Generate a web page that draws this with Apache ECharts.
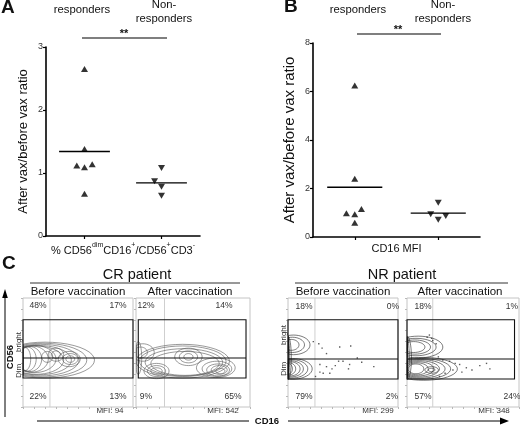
<!DOCTYPE html>
<html><head><meta charset="utf-8">
<script src="https://cdn.jsdelivr.net/npm/echarts@6/dist/echarts.min.js"></script>
<style>html,body{margin:0;padding:0;background:#fff}#c{width:520px;height:426px}</style>
</head><body><div id="c"></div>
<script>
// ---------- Panel A / B data ----------
const groupLabels = ['responders', 'Non-\nresponders'];
const aTicks = [0, 1, 2, 3];
const bTicks = [0, 2, 4, 6, 8];
const aResp = [2.65, 1.38, 1.12, 1.09, 1.14, 0.67];
const aRespShift = [0, 0, -0.1, 0, 0.1, 0];
const aNon = [1.08, 0.87, 0.78, 0.64];
const aNonShift = [0, -0.09, 0, 0];
const bResp = [6.25, 2.4, 0.98, 0.94, 1.15, 0.59];
const bRespShift = [0, 0, -0.1, 0, 0.08, 0];
const bNon = [1.41, 0.94, 0.71, 0.87];
const bNonShift = [0, -0.09, 0, 0.09];

// ---------- Panel C data ----------
const patientTitles = ['CR patient', 'NR patient'];
const timeTitles = ['Before vaccination', 'After vaccination'];
const quadPct = [['48%','17%','22%','13%'], ['12%','14%','9%','65%'], ['18%','0%','79%','2%'], ['18%','1%','57%','24%']];
const mfiValues = [94, 542, 299, 348];
const gateBounds = [[0,100,26.6,45,80], [2,96.5,26.6,45,80], [0,100,25.7,44,80], [0,96,25.7,44,80]];
const cd16Marker = [24.5, 25, 24.5, 23];
// contour rings: [centre x, centre y, radius x, radius y] (axis units 0-100)
const crBeforeRings = [
 [20,43,45,16.5],[18,43,40,15.5],[16,43,35,14.5],[14,43,30,13.5],[12,43,25,13],[10,44,20,12.5],[8,44,15,12],[6,44,11,11.5],[4,44,8,11],[2,44,5,10.5],
 [42,44,10,7],[43,44,7,5],[43,44,4,3],[30,48,7,6],[30,48,4,3.5],[22,46,5,5]
];
const crAfterRings = [
 [41,42,41,15.5],[41,42,38,14],[42,41,34,12.5],[43,40,30,11],
 [70,36,17,9],[71,35,13,7],[72,34,10,5.5],[73,34,7,4],[74,33,4,2.5],
 [18,33,11,7],[18,33,8,5],[18,33,5,3],
 [46,46,12,8],[46,46,8,5.5],[46,46,4,3],
 [6,50,10,8],[4,50,6,5],[2,45,3,15]
];
const nrBeforeRings = [
 [4,35,18,9.5],[3,35,15,8.5],[2,35,12,7.5],[2,35,9,6.5],[1,35,6,5.5],[1,35,3,4.5],
 [5,57,15,9],[4,57,11,7],[3,57,7,5],
 [0,45,3,20],[0,45,1.5,19]
];
const nrAfterRings = [
 [10,55,22,10],[8,55,18,8],[7,55,14,6.5],[6,55,10,5],
 [15,35,30,10.5],[13,35,26,9.5],[12,35,22,8.5],[11,35,18,7.5],[10,35,14,6.5],[9,35,10,5.5],[8,35,7,4.5],[22,34,6,3],[22,34,3,1.5],
 [0,45,4,20],[0,45,2,19]
];
const nrBeforeEvents = [[47,55],[57,56],[63,45],[50,42],[67,41],[78,37],[29,39],[35,37],[40,35],[43,38],[55,35],[32,31],[38,31],[56,39],[46,42],[23,60],[28,58],[31,54],[35,49],[29,32],[25,28]];
const nrAfterEvents = [[20,66],[23,61],[26,58],[28,46],[32,43],[38,42],[43,40],[47,39],[53,36],[58,34],[65,38],[71,40],[74,35],[49,32],[41,34],[34,31],[29,28],[18,64],[22,63]];

const FONT = 'Liberation Sans, Arial, Helvetica, sans-serif';
const mean = a => a.reduce((s, v) => s + v, 0) / a.length;

const chart = echarts.init(document.getElementById('c'), null, {renderer: 'canvas', width: 520, height: 426});

const grids = [
  {left: 46, top: 47, width: 154, height: 189},
  {left: 313, top: 43, width: 167, height: 194},
  {left: 23, top: 298, width: 110, height: 109, show: true, borderColor: '#c4c4c4', borderWidth: 1},
  {left: 136, top: 298, width: 114, height: 109, show: true, borderColor: '#c4c4c4', borderWidth: 1},
  {left: 288, top: 298, width: 110, height: 109, show: true, borderColor: '#c4c4c4', borderWidth: 1},
  {left: 407, top: 298, width: 112, height: 109, show: true, borderColor: '#c4c4c4', borderWidth: 1}
];

function dotXAxis(gi, name, rich) {
  return {gridIndex: gi, type: 'value', min: 0.5, max: 2.5,
    axisLine: {show: true, onZero: false, lineStyle: {color: '#000', width: 1.6}},
    axisTick: {show: true, customValues: [1, 2], length: 3, lineStyle: {color: '#000', width: 1.2}},
    axisLabel: {show: false}, splitLine: {show: false},
    name: name, nameLocation: 'middle', nameGap: 6,
    nameTextStyle: {fontFamily: FONT, fontSize: 11, color: '#111', rich: rich}};
}
function dotYAxis(gi, ticks, fs, gap) {
  return {gridIndex: gi, type: 'value', min: ticks[0], max: ticks[ticks.length - 1], interval: ticks[1] - ticks[0],
    axisLine: {show: true, lineStyle: {color: '#000', width: 1.6}},
    axisTick: {show: true, length: 3, lineStyle: {color: '#000', width: 1.2}},
    axisLabel: {fontFamily: FONT, fontSize: 9, color: '#333', margin: 3}, splitLine: {show: false},
    name: 'After vax/before vax ratio', nameLocation: 'middle', nameRotate: 90, nameGap: gap,
    nameTextStyle: {fontFamily: FONT, fontSize: fs, color: '#111'}};
}
function flowAxis(gi) {
  return {gridIndex: gi, type: 'value', min: 0, max: 100, interval: 10,
    axisLine: {show: false}, axisLabel: {show: false}, splitLine: {show: false},
    axisTick: {show: true, length: 2, lineStyle: {color: '#b8b8b8', width: 1}}};
}

const supRich = {
  n: {fontFamily: FONT, fontSize: 11, color: '#111', lineHeight: 14, verticalAlign: 'bottom'},
  s: {fontFamily: FONT, fontSize: 7, color: '#111', lineHeight: 10, verticalAlign: 'top'}
};

const xAxes = [
  dotXAxis(0, '{n|% CD56}{s|dim}{n|CD16}{s|+}{n|/CD56}{s|+}{n|CD3}{s|-}', supRich),
  dotXAxis(1, 'CD16 MFI', null)
];
const yAxes = [dotYAxis(0, aTicks, 13, 16), dotYAxis(1, bTicks, 15, 16)];
for (let gi = 2; gi < 6; gi++) { xAxes.push(flowAxis(gi)); yAxes.push(flowAxis(gi)); }

const series = [];
function triSeries(ai, vals, shift, center, down) {
  series.push({type: 'scatter', xAxisIndex: ai, yAxisIndex: ai, symbol: 'triangle', symbolSize: [7, 6],
    symbolRotate: down ? 180 : 0, itemStyle: {color: '#000'}, silent: true, z: 3,
    data: vals.map((v, i) => [center + shift[i], v])});
  const m = mean(vals);
  series.push({type: 'line', xAxisIndex: ai, yAxisIndex: ai, symbol: 'none', silent: true, z: 2,
    lineStyle: {color: '#000', width: 1.3}, data: [[center - 0.33, m], [center + 0.33, m]]});
}
triSeries(0, aResp, aRespShift, 1, false);
triSeries(0, aNon, aNonShift, 2, true);
triSeries(1, bResp, bRespShift, 1, false);
triSeries(1, bNon, bNonShift, 2, true);

function ringRenderer(color) {
  return function (params, api) {
    const cx = api.value(0), cy = api.value(1), rx = api.value(2), ry = api.value(3);
    const pts = [];
    for (let k = 0; k <= 40; k++) {
      const t = k / 40 * 2 * Math.PI;
      let x = cx + rx * Math.cos(t), y = cy + ry * Math.sin(t);
      x = Math.max(0.4, Math.min(99.6, x)); y = Math.max(0.4, Math.min(99.6, y));
      pts.push(api.coord([x, y]));
    }
    return {type: 'polyline', shape: {points: pts}, style: {stroke: color, lineWidth: 0.6, fill: null}};
  };
}
function markerItem(params, api) {
  const a = api.coord([api.value(0), 0]), b = api.coord([api.value(0), 100]);
  return {type: 'line', shape: {x1: a[0], y1: a[1], x2: b[0], y2: b[1]}, style: {stroke: '#cfcfcf', lineWidth: 1}};
}
function gateItem(params, api) {
  const x0 = api.value(0), x1 = api.value(1), yb = api.value(2), ym = api.value(3), yt = api.value(4);
  const p0 = api.coord([x0, yt]), p1 = api.coord([x1, yb]);
  const l0 = api.coord([x0, ym]), l1 = api.coord([x1, ym]);
  return {type: 'group', children: [
    {type: 'rect', shape: {x: p0[0], y: p0[1], width: p1[0] - p0[0], height: p1[1] - p0[1]}, style: {stroke: '#111', fill: null, lineWidth: 1.1}},
    {type: 'line', shape: {x1: l0[0], y1: l0[1], x2: l1[0], y2: l1[1]}, style: {stroke: '#111', lineWidth: 1.1}}
  ]};
}
const ringSets = [crBeforeRings, crAfterRings, nrBeforeRings, nrAfterRings];
const ringColors = ['#555', '#555', '#222', '#222'];
for (let p = 0; p < 4; p++) {
  const ai = p + 2;
  series.push({type: 'custom', xAxisIndex: ai, yAxisIndex: ai, silent: true, z: 1, renderItem: markerItem,
    dimensions: ['x'], encode: {x: 0}, data: [[cd16Marker[p]]]});
  series.push({type: 'custom', xAxisIndex: ai, yAxisIndex: ai, silent: true, z: 2, renderItem: ringRenderer(ringColors[p]),
    dimensions: ['cx', 'cy', 'rx', 'ry'], encode: {x: 0, y: 1}, data: ringSets[p]});
  series.push({type: 'custom', xAxisIndex: ai, yAxisIndex: ai, silent: true, z: 4, renderItem: gateItem,
    dimensions: ['x0', 'x1', 'yb', 'ym', 'yt'], encode: {x: [0, 1], y: [2, 3, 4]}, data: [gateBounds[p]]});
}
series.push({type: 'scatter', xAxisIndex: 4, yAxisIndex: 4, symbol: 'rect', symbolSize: 1.4, silent: true, z: 3,
  itemStyle: {color: '#333'}, data: nrBeforeEvents});
series.push({type: 'scatter', xAxisIndex: 5, yAxisIndex: 5, symbol: 'rect', symbolSize: 1.4, silent: true, z: 3,
  itemStyle: {color: '#333'}, data: nrAfterEvents});

// ---------- text & annotation graphics ----------
function T(text, x, y, o) {
  const opts = Object.assign({}, o || {});
  const rot = opts.rot; delete opts.rot;
  const st = Object.assign({text: text, fill: '#111', fontFamily: FONT, fontSize: 11, align: 'center', verticalAlign: 'middle'}, opts);
  const el = {type: 'text', x: x, y: y, style: st, silent: true};
  if (rot) { el.rotation = rot; }
  return el;
}
function L(x1, y1, x2, y2, w, c) {
  return {type: 'line', silent: true, shape: {x1: x1, y1: y1, x2: x2, y2: y2}, style: {stroke: c || '#000', lineWidth: w || 1}};
}
const g = [];
g.push(T('A', 1, 8, {fontSize: 19, fontWeight: 'bold', align: 'left'}));
g.push(T('B', 284, 7, {fontSize: 19, fontWeight: 'bold', align: 'left'}));
g.push(T('C', 2, 264, {fontSize: 19, fontWeight: 'bold', align: 'left'}));
g.push(T(groupLabels[0], 82, 10, {fontSize: 11.3}));
g.push(T(groupLabels[1], 164, 12, {fontSize: 11.3, lineHeight: 14}));
g.push(T(groupLabels[0], 358, 10, {fontSize: 11.3}));
g.push(T(groupLabels[1], 443, 12, {fontSize: 11.3, lineHeight: 14}));
g.push(L(82, 38, 167, 38, 1.2));
g.push(T('**', 124, 34, {fontSize: 11, fontWeight: 'bold'}));
g.push(L(357, 34, 441, 34, 1.2));
g.push(T('**', 398, 30, {fontSize: 11, fontWeight: 'bold'}));
g.push(T(patientTitles[0], 137, 275, {fontSize: 14.5}));
g.push(L(30, 283, 240, 283, 1, '#333'));
g.push(T(patientTitles[1], 402, 275, {fontSize: 14.5}));
g.push(L(295, 283, 508, 283, 1, '#333'));
g.push(T(timeTitles[0], 78, 292, {fontSize: 11.5}));
g.push(T(timeTitles[1], 190, 292, {fontSize: 11.5}));
g.push(T(timeTitles[0], 343, 292, {fontSize: 11.5}));
g.push(T(timeTitles[1], 460, 292, {fontSize: 11.5}));
const pctPos = [
  [[38,306],[118,306],[38,397],[118,397]],
  [[146,306],[224,306],[146,397],[233,397]],
  [[304,307],[393,307],[304,397],[392,397]],
  [[423,307],[512,307],[423,397],[512,397]]
];
const mfiPos = [[110, 411], [223, 411], [378, 411], [494, 411]];
for (let p = 0; p < 4; p++) {
  for (let q = 0; q < 4; q++) g.push(T(quadPct[p][q], pctPos[p][q][0], pctPos[p][q][1], {fontSize: 8.5, fill: '#333'}));
  g.push(T('MFI: ' + mfiValues[p], mfiPos[p][0], mfiPos[p][1], {fontSize: 8, fill: '#333'}));
}
g.push(L(5, 417, 5, 296, 1));
g.push({type: 'polygon', silent: true, shape: {points: [[5, 289], [2.2, 298], [7.8, 298]]}, style: {fill: '#000'}});
g.push(T('CD56', 10.5, 357, {fontSize: 9.5, fontWeight: 'bold', rot: Math.PI / 2}));
g.push(T('bright', 18.8, 342, {fontSize: 8, fill: '#333', rot: Math.PI / 2}));
g.push(T('Dim', 18.8, 371, {fontSize: 8, fill: '#333', rot: Math.PI / 2}));
g.push(T('bright', 284, 335, {fontSize: 8, fill: '#333', rot: Math.PI / 2}));
g.push(T('Dim', 284, 369, {fontSize: 8, fill: '#333', rot: Math.PI / 2}));
g.push(L(37, 421, 249, 421, 1));
g.push(L(288, 421, 502, 421, 1));
g.push({type: 'polygon', silent: true, shape: {points: [[509, 421], [500, 417.5], [500, 424.5]]}, style: {fill: '#000'}});
g.push(T('CD16', 267, 421, {fontSize: 9.5, fontWeight: 'bold'}));

chart.setOption({
  animation: false,
  backgroundColor: '#fff',
  textStyle: {fontFamily: FONT},
  grid: grids,
  xAxis: xAxes,
  yAxis: yAxes,
  series: series,
  graphic: {elements: g}
});
</script>
</body></html>
